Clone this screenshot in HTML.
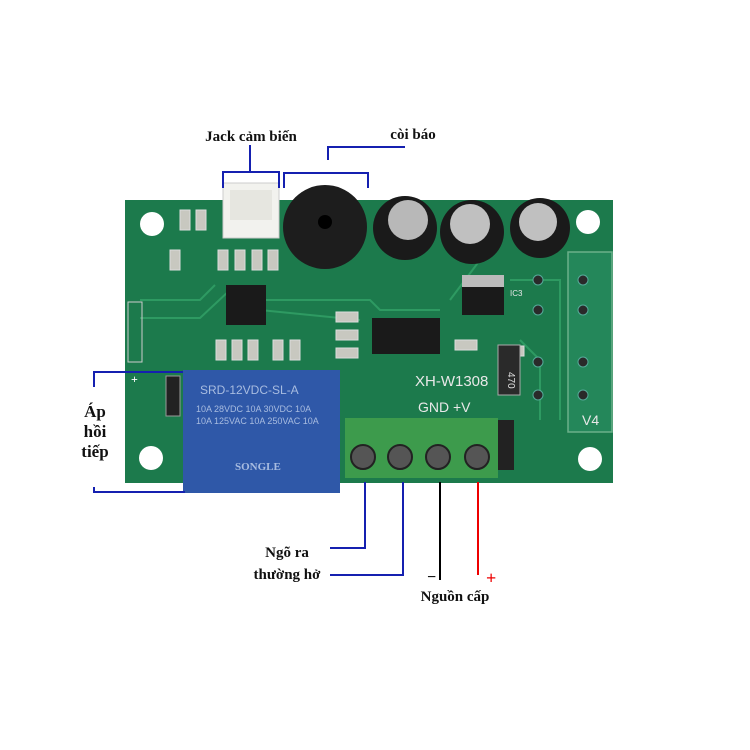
<!DOCTYPE html>
<html><head><meta charset="utf-8"><style>
body{margin:0;background:#fff;width:750px;height:750px;overflow:hidden}
svg{display:block}
text{font-family:"Liberation Serif",serif;font-weight:bold;fill:#111}
</style></head><body>
<svg width="750" height="750" viewBox="0 0 750 750">
<rect width="750" height="750" fill="#fff"/>
<rect x="125" y="200" width="488" height="283" fill="#1c7a4c"/>
<rect x="568" y="252" width="44" height="180" fill="#24875a" stroke="#6bb08a" stroke-width="1.5"/>
<g fill="#fff"><circle cx="152" cy="224" r="12"/><circle cx="588" cy="222" r="12"/><circle cx="151" cy="458" r="12"/><circle cx="590" cy="459" r="12"/></g>
<g stroke="#2e9a62" stroke-width="2" fill="none">
<path d="M140 300 L200 300 L215 285"/><path d="M140 318 L200 318 L230 290"/><path d="M260 300 L370 300 L380 310 L440 310"/><path d="M260 310 L360 320"/><path d="M510 280 L560 280 L560 420"/><path d="M520 340 L540 360 L540 420"/><path d="M450 300 L480 260"/>
</g>
<g fill="#c8c8c0" stroke="#ddd" stroke-width="1">
<rect x="180" y="210" width="10" height="20"/><rect x="196" y="210" width="10" height="20"/><rect x="170" y="250" width="10" height="20"/>
<rect x="218" y="250" width="10" height="20"/><rect x="235" y="250" width="10" height="20"/><rect x="252" y="250" width="10" height="20"/><rect x="268" y="250" width="10" height="20"/>
<rect x="216" y="340" width="10" height="20"/><rect x="232" y="340" width="10" height="20"/><rect x="248" y="340" width="10" height="20"/><rect x="273" y="340" width="10" height="20"/><rect x="290" y="340" width="10" height="20"/>
<rect x="336" y="312" width="22" height="10"/><rect x="336" y="330" width="22" height="10"/><rect x="336" y="348" width="22" height="10"/>
<rect x="455" y="340" width="22" height="10"/><rect x="510" y="346" width="14" height="10"/>
</g>
<rect x="226" y="285" width="40" height="40" fill="#1a1a1a"/>
<rect x="372" y="318" width="68" height="36" fill="#1a1a1a"/>
<rect x="462" y="275" width="42" height="40" fill="#1a1a1a"/><rect x="462" y="275" width="42" height="12" fill="#bbb"/>
<rect x="498" y="345" width="22" height="50" fill="#2a2a2a" stroke="#aaa"/>
<text x="508" y="372" font-size="10" transform="rotate(90 508 372)" style="fill:#ddd;font-weight:normal;font-family:'Liberation Sans'">470</text>
<rect x="128" y="302" width="14" height="60" fill="none" stroke="#ccc"/>
<rect x="166" y="376" width="14" height="40" fill="#222" stroke="#999"/>
<g fill="#2a2a2a" stroke="#5a9"><circle cx="538" cy="280" r="5"/><circle cx="538" cy="310" r="5"/><circle cx="538" cy="362" r="5"/><circle cx="538" cy="395" r="5"/><circle cx="583" cy="280" r="5"/><circle cx="583" cy="310" r="5"/><circle cx="583" cy="362" r="5"/><circle cx="583" cy="395" r="5"/></g>
<text x="415" y="386" font-size="15" style="fill:#e8e8e8;font-weight:normal;font-family:'Liberation Sans'">XH-W1308</text>
<text x="418" y="412" font-size="14" style="fill:#e8e8e8;font-weight:normal;font-family:'Liberation Sans'">GND  +V</text>
<text x="582" y="425" font-size="14" style="fill:#e8e8e8;font-weight:normal;font-family:'Liberation Sans'">V4</text>
<text x="510" y="296" font-size="8" style="fill:#e8e8e8;font-weight:normal;font-family:'Liberation Sans'">IC3</text>
<rect x="223" y="183" width="56" height="55" fill="#f2f2ee" stroke="#ccc"/>
<rect x="230" y="190" width="42" height="30" fill="#e6e6e0"/>
<circle cx="325" cy="227" r="42" fill="#1d1d1d"/><circle cx="325" cy="222" r="7" fill="#000"/>
<circle cx="405" cy="228" r="32" fill="#1a1a1a"/><circle cx="408" cy="220" r="20" fill="#b8b8b8"/>
<circle cx="472" cy="232" r="32" fill="#1a1a1a"/><circle cx="470" cy="224" r="20" fill="#c0c0c0"/>
<circle cx="540" cy="228" r="30" fill="#1a1a1a"/><circle cx="538" cy="222" r="19" fill="#c0c0c0"/>
<rect x="183" y="370" width="157" height="123" fill="#2f58a8"/>
<text x="200" y="394" font-size="12" style="fill:#a8bce0;font-weight:normal;font-family:'Liberation Sans'">SRD-12VDC-SL-A</text>
<text x="196" y="412" font-size="9" style="fill:#a8bce0;font-weight:normal;font-family:'Liberation Sans'">10A 28VDC 10A 30VDC 10A</text>
<text x="196" y="424" font-size="9" style="fill:#a8bce0;font-weight:normal;font-family:'Liberation Sans'">10A 125VAC 10A 250VAC 10A</text>
<text x="235" y="470" font-size="11" style="fill:#a8bce0">SONGLE</text>
<rect x="345" y="418" width="153" height="60" fill="#3d9b4c"/>
<g fill="#555" stroke="#222" stroke-width="2"><circle cx="363" cy="457" r="12"/><circle cx="400" cy="457" r="12"/><circle cx="438" cy="457" r="12"/><circle cx="477" cy="457" r="12"/></g>
<rect x="498" y="420" width="16" height="50" fill="#222"/>
<g stroke="#1520b0" stroke-width="2" fill="none">
<path d="M250 145 V172 M223 188 V172 H279 V188"/>
<path d="M405 147 H328 V160 M284 188 V173 H368 V188"/>
<path d="M183 372 H94 V387 M94 487 V492 H185"/>
<path d="M365 482 V548 H330"/>
<path d="M403 482 V575 H330"/>
</g>
<line x1="440" y1="482" x2="440" y2="580" stroke="#000" stroke-width="2"/>
<line x1="478" y1="482" x2="478" y2="575" stroke="#e00" stroke-width="2"/>
<text x="251" y="141" font-size="15" text-anchor="middle">Jack cảm biến</text>
<text x="413" y="139" font-size="15" text-anchor="middle">còi báo</text>
<text x="95" y="417" font-size="17" text-anchor="middle">Áp</text>
<text x="95" y="437" font-size="17" text-anchor="middle">hồi</text>
<text x="95" y="457" font-size="17" text-anchor="middle">tiếp</text>
<text x="287" y="557" font-size="15" text-anchor="middle">Ngõ ra</text>
<text x="287" y="579" font-size="15" text-anchor="middle">thường hở</text>
<text x="427" y="582" font-size="16">−</text>
<text x="486" y="584" font-size="18" style="fill:#e00">+</text>
<text x="455" y="601" font-size="15" text-anchor="middle">Nguồn cấp</text>
<text x="131" y="383" font-size="12" style="fill:#fff">+</text>
</svg>
</body></html>
